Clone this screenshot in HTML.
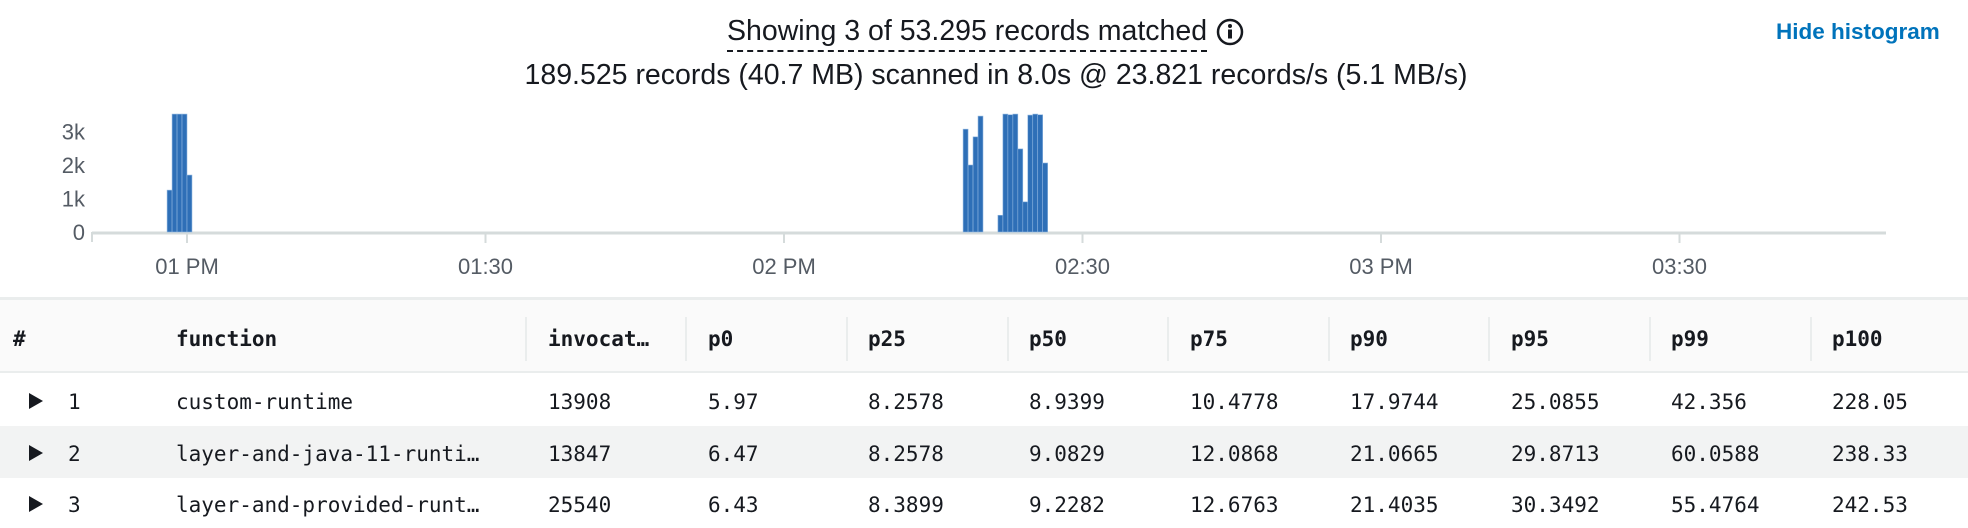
<!DOCTYPE html>
<html><head><meta charset="utf-8">
<style>
body{margin:0;width:1968px;height:528px;overflow:hidden;background:#fff;font-family:"Liberation Sans",sans-serif;color:#16191f;position:relative}
.abs{position:absolute;white-space:nowrap}
.mono{font-family:"DejaVu Sans Mono","Liberation Mono",monospace;font-size:21px}
</style></head><body>
<div class="abs" style="left:727px;top:12px;font-size:28.5px;border-bottom:2px dashed #16191f;line-height:38px">Showing 3 of 53.295 records matched</div>
<svg class="abs" style="left:1216px;top:18px" width="28" height="28"><circle cx="14" cy="14" r="12" fill="none" stroke="#16191f" stroke-width="2.5"/><circle cx="14" cy="8" r="2" fill="#16191f"/><rect x="12" y="11.5" width="4" height="9" fill="#16191f"/></svg>
<div class="abs" style="left:12px;width:1968px;text-align:center;top:57px;font-size:28.5px;line-height:36px">189.525 records (40.7 MB) scanned in 8.0s @ 23.821 records/s (5.1 MB/s)</div>
<div class="abs" style="left:1776px;top:19px;font-size:22.5px;font-weight:bold;color:#0073bb">Hide histogram</div>

<svg class="abs" id="chart" style="left:0;top:100px" width="1968" height="190" viewBox="0 100 1968 190"></svg>

<div class="abs" style="left:0;top:297px;width:1968px;height:76px;background:#fafafa;border-top:3px solid #eaeded;border-bottom:2px solid #eaeded;box-sizing:border-box"></div>
<div class="abs" style="left:0;top:426px;width:1968px;height:52px;background:#f2f3f3"></div>
<div id="table"></div>

<script>
const binMinutes=[-2,78];
const cluster1=[1.25,3.52,3.52,3.52,1.7];
const cluster2=[3.07,2.0,2.84,3.46,0,0,0,0.5,3.52,3.5,3.52,2.48,0.9,3.49,3.52,3.5,2.06];
const yTicks=[0,1,2,3];
const yTickLabels=["0","1k","2k","3k"];
const xTickMinutes=[0,30,60,90,120,150];
const xTickLabels=["01 PM","01:30","02 PM","02:30","03 PM","03:30"];
const headers=["#","function","invocat…","p0","p25","p50","p75","p90","p95","p99","p100"];
const rowsData=[
["1","custom-runtime","13908","5.97","8.2578","8.9399","10.4778","17.9744","25.0855","42.356","228.05"],
["2","layer-and-java-11-runti…","13847","6.47","8.2578","9.0829","12.0868","21.0665","29.8713","60.0588","238.33"],
["3","layer-and-provided-runt…","25540","6.43","8.3899","9.2282","12.6763","21.4035","30.3492","55.4764","242.53"]];

const NS="http://www.w3.org/2000/svg";
const svg=document.getElementById('chart');
const x=m=>187+m*9.95;
const y=v=>232-v*33.5;
function mk(t,a){const e=document.createElementNS(NS,t);for(const k in a)e.setAttribute(k,a[k]);svg.appendChild(e);return e;}
let e=mk('line',{x1:92,x2:1886,y1:233,y2:233,stroke:'#d5dbdb','stroke-width':3});


e=mk('line',{x1:92,x2:92,y1:232,y2:242,stroke:'#d5dbdb','stroke-width':2});


yTicks.forEach((v,i)=>{const t=mk('text',{x:85,y:y(v)+8,'text-anchor':'end','font-size':22,fill:'#545b64','font-family':'Liberation Sans'});t.textContent=yTickLabels[i];

});
xTickMinutes.forEach((m,i)=>{const l=mk('line',{x1:x(m),x2:x(m),y1:233,y2:243,stroke:'#d5dbdb','stroke-width':2});


const t=mk('text',{x:x(m),y:274,'text-anchor':'middle','font-size':22,fill:'#545b64','font-family':'Liberation Sans'});t.textContent=xTickLabels[i];

});
[cluster1,cluster2].forEach((c,ci)=>c.forEach((v,i)=>{if(v<=0)return;const m0=binMinutes[ci]+i*0.5;
const r=mk('rect',{x:x(m0),y:y(v),width:x(m0+0.5)-x(m0),height:y(0)-y(v),fill:'#2e6fb7',stroke:'#8fb6e0','stroke-width':0.6});

}));

const colX=[13,176,548,708,868,1029,1190,1350,1511,1671,1832];
const seps=[525,685,846,1007,1167,1328,1488,1649,1810];
const tb=document.getElementById('table');
seps.forEach(s=>{const d=document.createElement('div');d.className='abs';d.style.cssText=`left:${s}px;top:317px;width:2px;height:44px;background:#eaeded`;


tb.appendChild(d);});
headers.forEach((h,i)=>{const d=document.createElement('div');d.className='abs mono';d.style.cssText=`left:${colX[i]}px;top:327px;font-weight:bold`;d.textContent=h;


tb.appendChild(d);});
rowsData.forEach((r,ri)=>{const top=390+ri*51.5;
const tri=document.createElement('div');tri.className='abs';tri.style.cssText=`left:29px;top:${top+3}px;width:0;height:0;border-top:8px solid transparent;border-bottom:8px solid transparent;border-left:14px solid #16191f`;


tb.appendChild(tri);
r.forEach((v,i)=>{const d=document.createElement('div');d.className='abs mono';d.style.cssText=`left:${i==0?68:colX[i]}px;top:${top}px`;d.textContent=v;


tb.appendChild(d);});});
</script>
</body></html>
